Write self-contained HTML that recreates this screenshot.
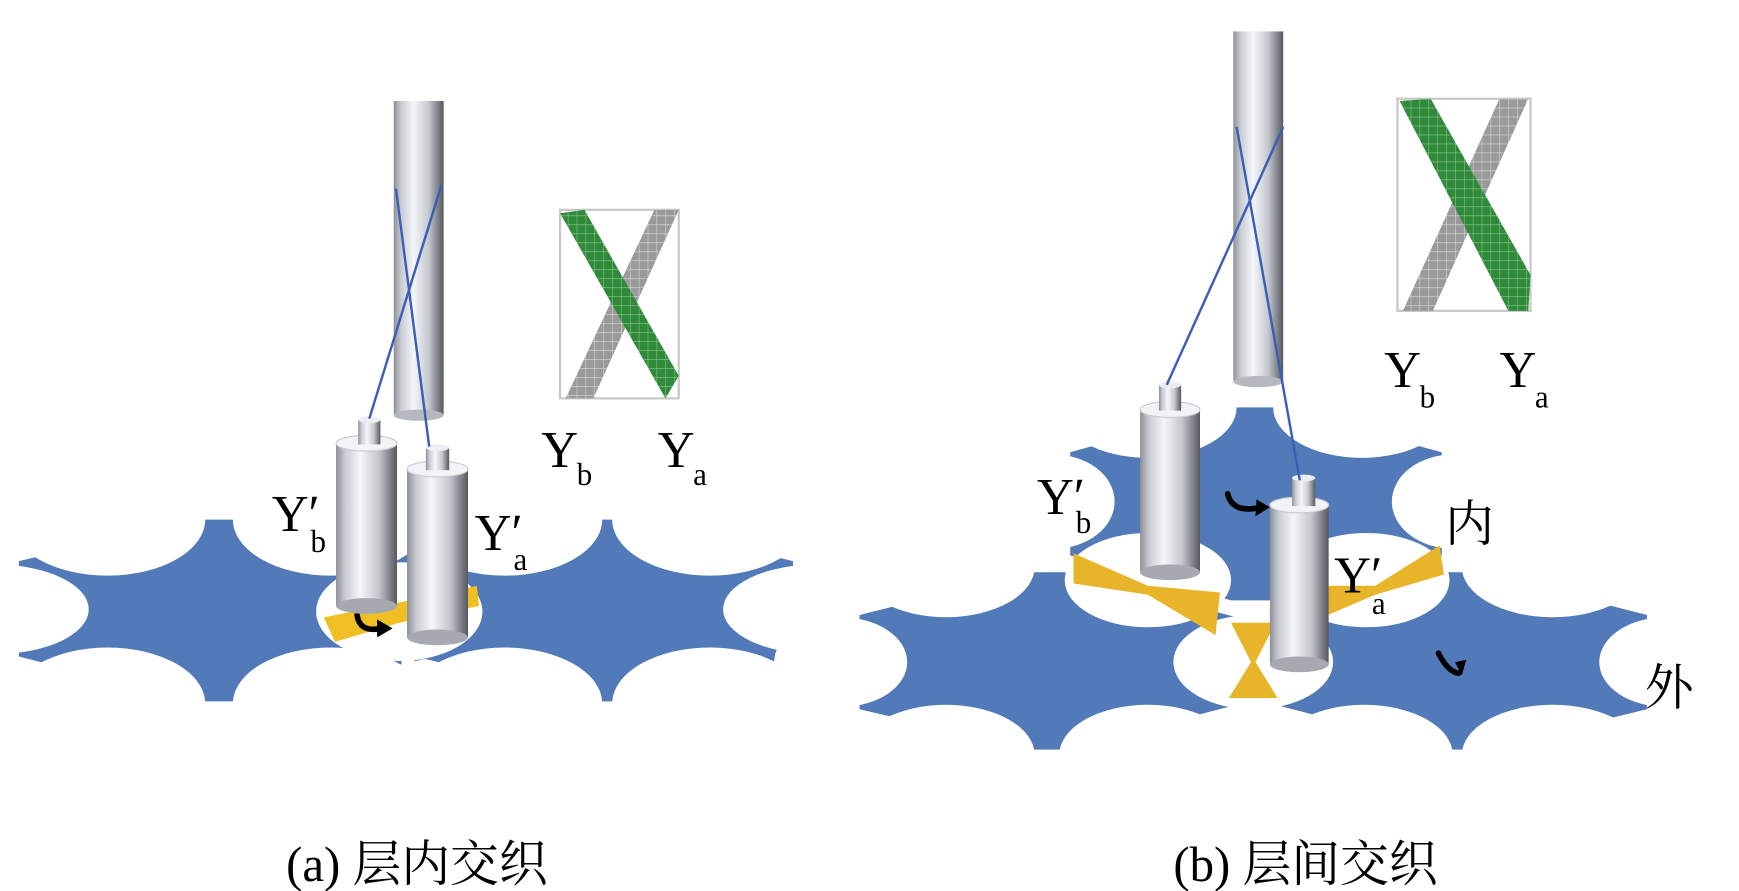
<!DOCTYPE html>
<html><head><meta charset="utf-8"><style>
html,body{margin:0;padding:0;background:#fff}
svg{display:block}
text{font-family:"Liberation Serif","Noto Serif CJK SC",serif;fill:#000}
</style></head><body>
<svg width="1739" height="891" viewBox="0 0 1568 794" preserveAspectRatio="none" xmlns="http://www.w3.org/2000/svg">
<defs>
<linearGradient id="cy" x1="0" x2="1" y1="0" y2="0">
<stop offset="0" stop-color="#8d9096"/><stop offset="0.15" stop-color="#c9ccd2"/><stop offset="0.4" stop-color="#f4f6fa"/><stop offset="0.7" stop-color="#c4c7cd"/><stop offset="1" stop-color="#55585e"/></linearGradient>
<pattern id="gp" width="8" height="8" patternUnits="userSpaceOnUse"><rect width="8" height="8" fill="#2f8a3a"/><path d="M0 0H8M0 0V8" stroke="#8fc48f" stroke-width="1"/></pattern>
<pattern id="ggp" width="8" height="8" patternUnits="userSpaceOnUse"><rect width="8" height="8" fill="#9a9a9a"/><path d="M0 0H8M0 0V8" stroke="#d8d8d8" stroke-width="1"/></pattern>
</defs>
<rect width="1568" height="794" fill="#fff"/>

<!-- Left figure lattice -->
<g fill="#527ab9">
<polygon points="17,500 175,463 220,463 392,500 392,585 220,625 175,625 17,585"/>
<polygon points="375,500 535,463 560,463 715,500 715,585 560,625 535,625 375,585"/>
</g>
<g fill="#fff">
<ellipse cx="-5" cy="543" rx="85" ry="40"/>
<ellipse cx="97" cy="463" rx="88" ry="50"/>
<ellipse cx="298" cy="463" rx="88" ry="50"/>
<ellipse cx="97" cy="627" rx="88" ry="50"/>
<ellipse cx="298" cy="627" rx="88" ry="50"/>
<ellipse cx="360" cy="545" rx="75" ry="44"/>
<ellipse cx="455" cy="463" rx="88" ry="50"/>
<ellipse cx="640" cy="463" rx="88" ry="50"/>
<ellipse cx="455" cy="627" rx="88" ry="50"/>
<ellipse cx="640" cy="627" rx="88" ry="50"/>
<ellipse cx="737" cy="543" rx="85" ry="40"/>
<rect x="362" y="585" width="12" height="45"/>
</g>
<polygon points="292,550 355,538 430,522 432,540 360,555 302,572" fill="#f0bf24"/>

<!-- Right figure lattice -->
<g fill="#527ab9">
<polygon points="965,403 1110,363 1150,363 1300,403 1300,495 1150,535 1110,535 965,495"/>
<polygon points="775,548 930,510 960,510 1115,550 1115,628 960,668 930,668 775,632"/>
<polygon points="1150,550 1305,510 1335,510 1485,548 1485,632 1335,668 1305,668 1150,628"/>
</g>
<g fill="#fff">
<ellipse cx="1035" cy="363" rx="80" ry="45"/>
<ellipse cx="1228" cy="363" rx="80" ry="45"/>
<ellipse cx="950" cy="447" rx="55" ry="42"/>
<ellipse cx="1310" cy="447" rx="55" ry="42"/>
<ellipse cx="1035" cy="517" rx="75" ry="42"/>
<ellipse cx="1232" cy="517" rx="75" ry="42"/>
<ellipse cx="758" cy="590" rx="60" ry="40"/>
<ellipse cx="853" cy="505" rx="80" ry="45"/>
<ellipse cx="1400" cy="505" rx="82" ry="45"/>
<ellipse cx="1130" cy="590" rx="72" ry="42"/>
<ellipse cx="1502" cy="590" rx="60" ry="40"/>
<ellipse cx="853" cy="673" rx="80" ry="45"/>
<ellipse cx="1035" cy="673" rx="80" ry="45"/>
<ellipse cx="1230" cy="673" rx="80" ry="45"/>
<ellipse cx="1400" cy="673" rx="82" ry="45"/>
</g>
<g fill="#e8b52a">
<polygon points="968,493 1035,522 1100,528 1096,566 1035,530 968,520"/>
<polygon points="1298,486 1302,512 1240,530 1188,552 1188,522 1240,522"/>
<polygon points="1110,555 1150,555 1132,590 1152,622 1108,622 1128,590"/>
</g>

<!-- arrows -->
<g fill="none" stroke="#000" stroke-width="5" stroke-linecap="round">
<path d="M322,548 q2,16 22,12"/>
<path d="M1107,440 q4,18 30,12"/>
<path d="M1297,582 q8,16 18,18"/>
</g>
<g fill="#000">
<polygon points="340,552 354,560 340,568"/>
<polygon points="1133,445 1145,452 1132,460"/>
<polygon points="1312,590 1322,588 1318,602"/>
</g>

<!-- Left rod and cylinders -->
<rect x="355" y="90" width="45" height="280" fill="url(#cy)"/>
<ellipse cx="377.5" cy="370" rx="22.5" ry="5" fill="#b5b8be"/>
<g>
<rect x="303" y="395" width="55" height="145" fill="url(#cy)"/>
<ellipse cx="330.5" cy="540" rx="27.5" ry="7" fill="#a6a9af"/>
<ellipse cx="330.5" cy="395" rx="27.5" ry="7" fill="#f2f3f6" stroke="#c8cacf"/>
<rect x="323" y="374" width="20" height="22" fill="url(#cy)"/>
<ellipse cx="333" cy="374" rx="10" ry="3" fill="#eceef2"/>
</g>
<g>
<rect x="367" y="418" width="55" height="150" fill="url(#cy)"/>
<ellipse cx="394.5" cy="568" rx="27.5" ry="7" fill="#a6a9af"/>
<ellipse cx="394.5" cy="418" rx="27.5" ry="7" fill="#f2f3f6" stroke="#c8cacf"/>
<rect x="384" y="399" width="21" height="20" fill="url(#cy)"/>
<ellipse cx="394.5" cy="399" rx="10.5" ry="3" fill="#eceef2"/>
</g>
<g stroke="#3c5fb5" stroke-width="2.2">
<line x1="357" y1="168" x2="387" y2="398"/>
<line x1="398" y1="165" x2="333" y2="373"/>
</g>

<!-- Right rod and cylinders -->
<rect x="1112" y="28" width="45" height="312" fill="url(#cy)"/>
<ellipse cx="1134.5" cy="340" rx="22.5" ry="5" fill="#b5b8be"/>
<g>
<rect x="1028" y="365" width="54" height="145" fill="url(#cy)"/>
<ellipse cx="1055" cy="510" rx="27" ry="7" fill="#a6a9af"/>
<ellipse cx="1055" cy="365" rx="27" ry="7" fill="#f2f3f6" stroke="#c8cacf"/>
<rect x="1045" y="343" width="20" height="23" fill="url(#cy)"/>
<ellipse cx="1055" cy="343" rx="10" ry="3" fill="#eceef2"/>
</g>
<g>
<rect x="1145" y="450" width="53" height="142" fill="url(#cy)"/>
<ellipse cx="1171.5" cy="592" rx="26.5" ry="7" fill="#a6a9af"/>
<ellipse cx="1171.5" cy="450" rx="26.5" ry="7" fill="#f2f3f6" stroke="#c8cacf"/>
<rect x="1165" y="426" width="21" height="25" fill="url(#cy)"/>
<ellipse cx="1175.5" cy="426" rx="10.5" ry="3" fill="#eceef2"/>
</g>
<g stroke="#3c5fb5" stroke-width="2.2">
<line x1="1115" y1="113" x2="1172" y2="428"/>
<line x1="1157" y1="113" x2="1052" y2="343"/>
</g>

<!-- Insets -->
<g>
<rect x="505" y="187" width="107" height="168" fill="#fff" stroke="#c8c8c8" stroke-width="2"/>
<polygon points="590,187 612,187 535,355 510,355" fill="url(#ggp)"/>
<polygon points="505,190 527,187 612,335 600,355" fill="url(#gp)"/>
</g>
<g>
<rect x="1260" y="88" width="120" height="189" fill="#fff" stroke="#c8c8c8" stroke-width="2"/>
<polygon points="1352,88 1378,88 1292,277 1265,277" fill="url(#ggp)"/>
<polygon points="1262,90 1290,88 1380,245 1378,277 1360,277" fill="url(#gp)"/>
</g>

<!-- Labels -->
<g font-size="46">
<text x="488" y="416">Y</text><text x="520" y="432" font-size="28">b</text>
<text x="593" y="416">Y</text><text x="625" y="432" font-size="28">a</text>
<text x="245" y="473">Y′</text><text x="280" y="492" font-size="28">b</text>
<text x="428" y="490">Y′</text><text x="463" y="508" font-size="28">a</text>
<text x="1248" y="345">Y</text><text x="1280" y="363" font-size="28">b</text>
<text x="1352" y="345">Y</text><text x="1384" y="363" font-size="28">a</text>
<text x="935" y="458">Y′</text><text x="970" y="475" font-size="28">b</text>
<text x="1203" y="528">Y′</text><text x="1237" y="547" font-size="28">a</text>
<text x="1303" y="482" font-size="44">内</text>
<text x="1483" y="628" font-size="44">外</text>
<text x="258" y="785" font-size="44">(a) 层内交织</text>
<text x="1058" y="785" font-size="44">(b) 层间交织</text>
</g>
</svg>
</body></html>
